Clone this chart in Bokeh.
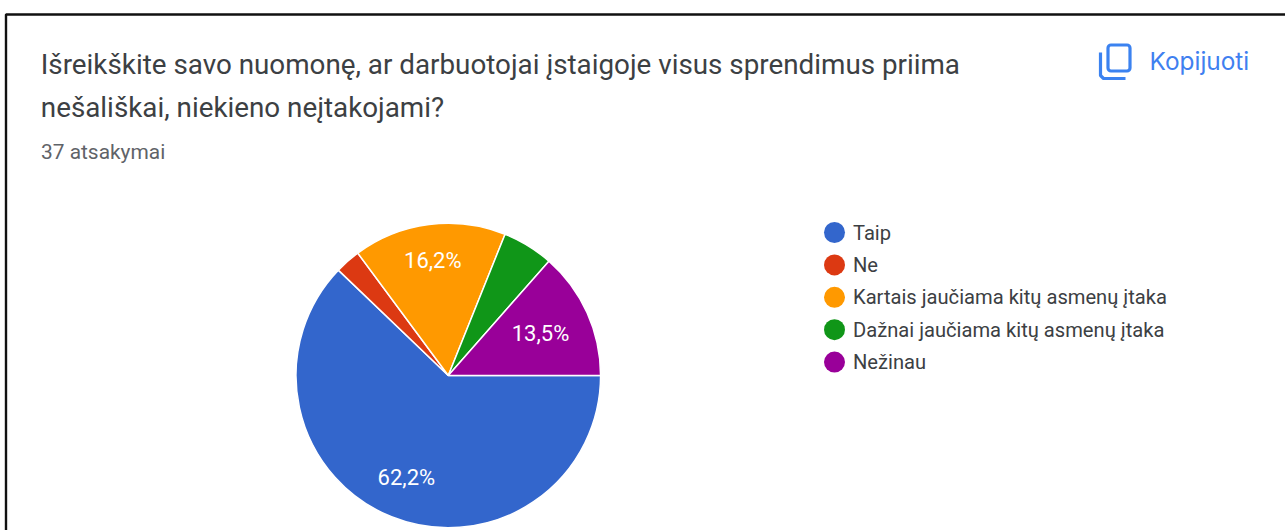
from bokeh.plotting import figure
from bokeh.models import Range1d, ColumnDataSource
from bokeh.core.properties import value
from bokeh.embed import file_html
from bokeh.resources import INLINE
import numpy as np

title_lines = ["Išreikškite savo nuomonę, ar darbuotojai įstaigoje visus sprendimus priima",
               "nešališkai, niekieno neįtakojami?"]
subtitle = "37 atsakymai"
copy_label = "Kopijuoti"
categories = ["Taip", "Ne", "Kartais jaučiama kitų asmenų įtaka", "Dažnai jaučiama kitų asmenų įtaka", "Nežinau"]
counts = [23, 1, 6, 2, 5]
colors = ["#3366cc", "#dc3912", "#ff9900", "#109618", "#990099"]
pct_labels = ["62,2%", "", "16,2%", "", "13,5%"]

W, H = 1285, 530
def Y(py):
    return H - py

p = figure(width=W, height=H, x_range=Range1d(0, W), y_range=Range1d(0, H),
           output_backend="svg", toolbar_location=None, min_border=0,
           x_axis_location=None, y_axis_location=None, outline_line_color=None,
           background_fill_color="white", border_fill_color="white",
           margin=(0, 0, 0, 0))
p.grid.visible = False

# card border
p.line([5.5, 5.5, W], [Y(H), Y(14), Y(14)], line_color="#111111", line_width=2.4)

# texts
font = value("Roboto")
p.text([40.3, 40.3], [Y(64), Y(106.5)], text=title_lines, text_font=font, text_font_size="27.8px",
       text_color="#3c4043", text_baseline="middle")
p.text([40.5], [Y(151)], text=[subtitle], text_font=font, text_font_size="20.9px",
       text_color="#5f6368", text_baseline="middle")
p.text([1149], [Y(60)], text=[copy_label], text_font=value("Inter"), text_font_size="24.4px",
       text_color="#3f80f0", text_baseline="middle")

# copy icon
icon = "#3b82f0"
p.rect([1118.5], [Y(57.5)], width=22, height=26, fill_color=None, line_color=icon,
       line_width=3.2, border_radius=3)
p.line([1100, 1100, 1103, 1125], [Y(52), Y(75), Y(78), Y(78)], line_color=icon, line_width=3.2)

# pie
cx, cy, r = 447.8, Y(375), 152.3
vals = np.array(counts, dtype=float)
frac = vals / vals.sum()
ends = -np.cumsum(frac) * 2 * np.pi
starts = np.concatenate([[0.0], ends[:-1]])
src = ColumnDataSource(dict(start=starts, end=ends, color=colors))
p.wedge(x=cx, y=cy, radius=r, start_angle="start", end_angle="end", direction="clock",
        fill_color="color", line_color="white", line_width=1.5, source=src)

mid = (starts + ends) / 2
label_reach = np.array([0.724, 0.7, 0.76, 0.7, 0.67]) * r
lx = cx + label_reach * np.cos(mid) - 0.8
ly = cy + label_reach * np.sin(mid)
p.text(lx, ly, text=pct_labels, text_font=font, text_font_size="22px", text_color="white",
       text_align="center", text_baseline="middle")

# legend
ys = [Y(232 + 32.4 * i) for i in range(len(categories))]
p.scatter([834] * 5, ys, size=21, fill_color=colors, line_color=None)
p.text([852.5] * 5, ys, text=categories, text_font=font, text_font_size="20.15px",
       text_color="#3c4043", text_baseline="middle")

open("out.html", "w").write(file_html(p, INLINE))
